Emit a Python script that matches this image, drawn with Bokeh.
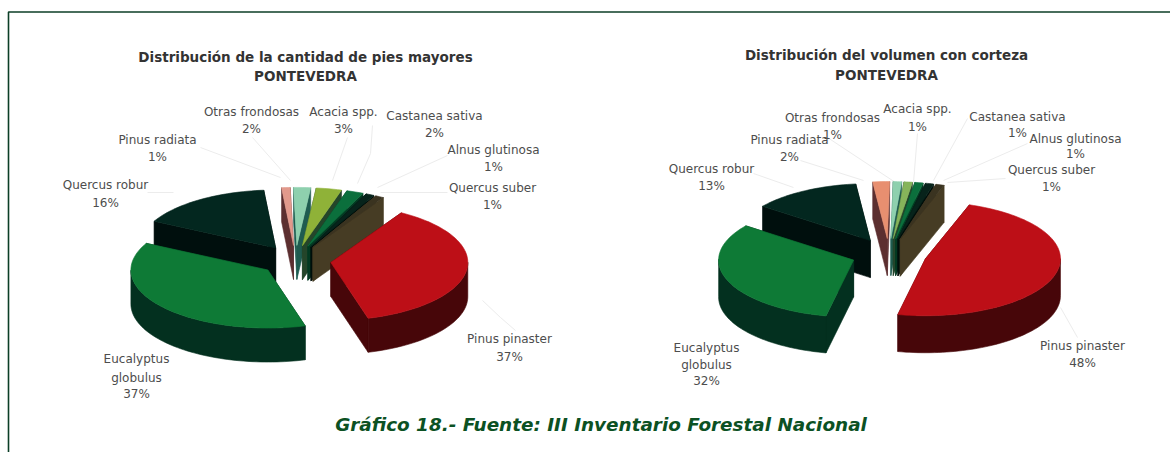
import math
from bokeh.plotting import figure
from bokeh.embed import file_html
from bokeh.resources import INLINE
from bokeh.core.properties import value

# ---- data ----
species = ["Pinus pinaster", "Eucalyptus globulus", "Quercus robur", "Pinus radiata",
           "Otras frondosas", "Acacia spp.", "Castanea sativa", "Alnus glutinosa", "Quercus suber"]
pies_left = [37, 37, 16, 1, 2, 3, 2, 1, 1]
pies_right = [48, 32, 13, 2, 1, 1, 1, 1, 1]
title_left = ["Distribución de la cantidad de pies mayores", "PONTEVEDRA"]
title_right = ["Distribución del volumen con corteza", "PONTEVEDRA"]
caption = "Gráfico 18.- Fuente: III Inventario Forestal Nacional"

# ---- styles ----
top_cols = ["#bd0f17", "#0e7a36", "#03271f", "#e2998c", "#8ed0ae", "#8fb238", "#0b6f3c", "#07231b", "#3a3320"]
wall_cols = ["#470609", "#03301f", "#000f0d", "#5c2f30", "#1f5c50", "#24452a", "#033a22", "#000f0b", "#463c24"]
right_tops = list(top_cols)
right_tops[3] = "#e88f70"
right_tops[5] = "#86b45a"
W, H = 1170, 452
p = figure(width=W, height=H, x_range=(0, W), y_range=(H, 0), toolbar_location=None,
           output_backend="svg", min_border=0, background_fill_color="white", outline_line_color=None)
p.xaxis.visible = False
p.yaxis.visible = False
p.xgrid.visible = False
p.ygrid.visible = False


def ell(c, rx, ry, a):
    return c[0] + rx * math.cos(a), c[1] - ry * math.sin(a)


def poly(xs, ys, col):
    p.patch(xs, ys, fill_color=col, line_color=col, line_width=0.6)


def pie(vals, start_deg, cx, cy, rx, ry, depth, expl, tops):
    total = sum(vals)
    ang = math.radians(start_deg)
    slices = []
    for i, v in enumerate(vals):
        a1 = ang
        a2 = ang - 2 * math.pi * v / total
        slices.append((i, a1, a2))
        ang = a2
    # back to front: slices higher on the page are painted first
    slices.sort(key=lambda s: math.sin((s[1] + s[2]) / 2), reverse=True)
    for i, a1, a2 in slices:
        mid = (a1 + a2) / 2
        apex = ell((cx, cy), rx * expl, ry * expl, mid)
        c1 = ell(apex, rx, ry, a1)
        c2 = ell(apex, rx, ry, a2)
        faces = sorted([c1, c2], key=lambda q: q[1] + apex[1])
        for q in faces:
            poly([apex[0], q[0], q[0], apex[0]], [apex[1], q[1], q[1] + depth, apex[1] + depth], wall_cols[i])
        n = max(4, int(abs(a2 - a1) / 0.03))
        rim = [ell(apex, rx, ry, a1 + (a2 - a1) * k / n) for k in range(n + 1)]
        front = [q for k, q in enumerate(rim) if math.sin(a1 + (a2 - a1) * k / n) < 0.02]
        if len(front) > 1:
            poly([q[0] for q in front] + [q[0] for q in reversed(front)],
                 [q[1] for q in front] + [q[1] + depth for q in reversed(front)], wall_cols[i])
        poly([apex[0]] + [q[0] for q in rim], [apex[1]] + [q[1] for q in rim], tops[i])


def leaders(segs):
    for xs, ys in segs:
        p.line(xs, ys, line_color="#ececec", line_width=1)


def txt(x, y, s, size="12px", style="normal", col="#4d4d4d", font="DejaVu Sans"):
    p.text([x], [y], text=[s], text_font=value(font), text_font_size=value(size),
           text_font_style=value(style), text_color=col, text_align="center", text_baseline="middle")


def labels(items, vals, names):
    for (x, ys), name, v in zip(items, names, vals):
        lines = name + [f"{v}%"]
        for y, s in zip(ys, lines):
            txt(x, y, s)


# frame
p.line([1170, 8, 8], [11.5, 11.5, 452], line_color="#0c3f27", line_width=1.6)

# leader lines, left pie
leaders([([200, 280], [147, 177]), ([347, 332], [137, 180]), ([372, 370, 357], [125, 153, 183]),
         ([447, 377], [155, 187]), ([447, 380], [192, 192]), ([147, 173], [192, 192]),
         ([252, 290], [137, 180]), ([482, 500, 515], [300, 317, 330])])
# leader lines, right pie
leaders([([800, 863], [160, 180]), ([753, 793], [173, 187]), ([827, 895], [137, 182]),
         ([917, 913], [133, 182]), ([967, 933], [118, 180]), ([1027, 943], [143, 180]),
         ([1005, 947], [178, 182]), ([1060, 1077], [307, 337])])

pie(pies_left, 59, 295, 260, 137, 58, 34, 0.26, top_cols)
pie(pies_right, 71, 888.5, 254, 135, 57, 37, 0.28, right_tops)

# titles
for y, s in zip([56, 75], title_left):
    txt(305, y, s, size="13.5px", style="bold", col="#333333")
for y, s in zip([54, 74], title_right):
    txt(886, y, s, size="13.5px", style="bold", col="#333333")

names = [["Pinus pinaster"], ["Eucalyptus", "globulus"], ["Quercus robur"], ["Pinus radiata"],
         ["Otras frondosas"], ["Acacia spp."], ["Castanea sativa"], ["Alnus glutinosa"], ["Quercus suber"]]
pos_l = [(509, [338, 356]), (136, [358, 377, 393]), (105, [184, 202]), (157, [139, 156]),
         (251, [111, 128]), (343, [111, 128]), (434, [115, 132]), (493, [149, 166]), (492, [187, 204])]
labels(pos_l, pies_left, names)

pos_r = [(1082, [345, 362]), (706, [347, 364, 380]), (711, [168, 185]), (789, [139, 156]),
         (832, [117, 134]), (917, [108, 126]), (1017, [116, 132]), (1075, [138, 153]), (1051, [169, 186])]
labels(pos_r, pies_right, names)

txt(600.5, 424, caption, size="18.4px", style="bold italic", col="#0c5123")

open("out.html", "w").write(file_html(p, INLINE))
